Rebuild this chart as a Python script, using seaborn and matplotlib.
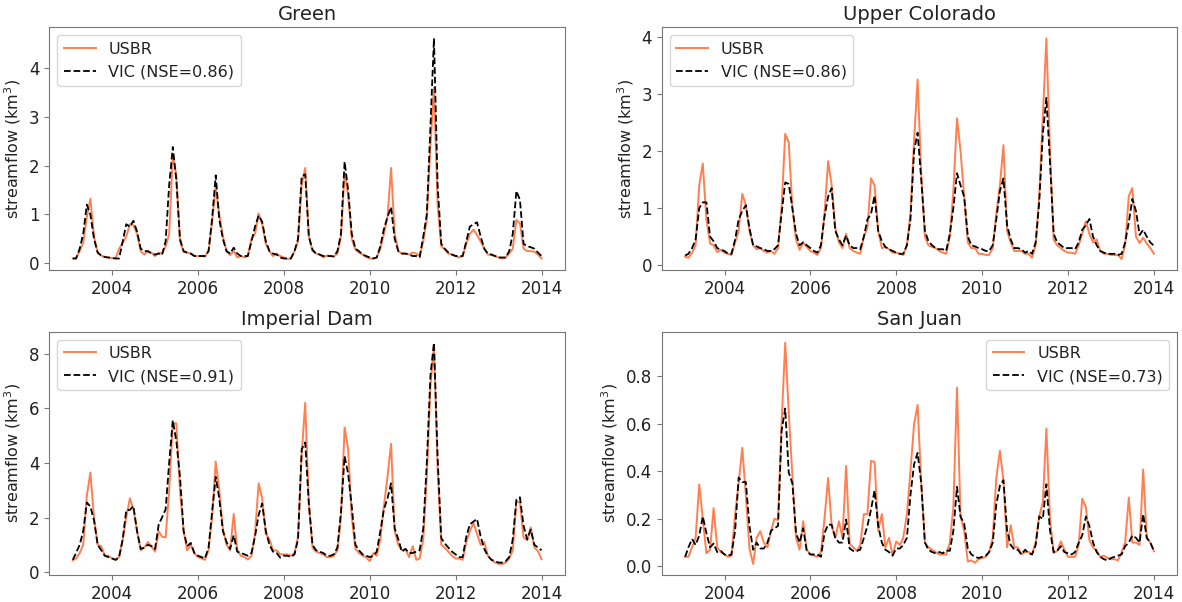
import numpy as np
import pandas as pd
import matplotlib
matplotlib.use("Agg")
import matplotlib.pyplot as plt
import matplotlib.dates as mdates
import seaborn as sns

# Monthly streamflow volumes (km^3), Jan 2003 - Dec 2013, one row per year
dates = pd.date_range("2003-01-31", periods=132, freq="ME")

green_usbr = [
    0.10, 0.10, 0.25, 0.42, 0.95, 1.32, 0.55, 0.22, 0.16, 0.13, 0.12, 0.11,
    0.10, 0.30, 0.42, 0.55, 0.80, 0.78, 0.60, 0.25, 0.18, 0.25, 0.22, 0.15,
    0.22, 0.20, 0.35, 0.60, 2.22, 1.80, 0.45, 0.23, 0.22, 0.20, 0.15, 0.15,
    0.15, 0.14, 0.25, 0.85, 1.55, 1.00, 0.55, 0.25, 0.17, 0.25, 0.12, 0.15,
    0.12, 0.15, 0.50, 0.60, 1.02, 0.80, 0.40, 0.25, 0.15, 0.20, 0.15, 0.12,
    0.09, 0.10, 0.25, 0.45, 1.60, 1.95, 0.55, 0.25, 0.20, 0.18, 0.12, 0.16,
    0.15, 0.14, 0.20, 0.55, 1.85, 1.40, 0.50, 0.28, 0.22, 0.18, 0.13, 0.10,
    0.10, 0.12, 0.30, 0.60, 0.95, 1.95, 0.60, 0.25, 0.20, 0.20, 0.18, 0.22,
    0.20, 0.15, 0.45, 0.90, 2.40, 3.60, 1.20, 0.35, 0.28, 0.20, 0.18, 0.15,
    0.12, 0.15, 0.40, 0.60, 0.69, 0.58, 0.45, 0.30, 0.18, 0.17, 0.15, 0.12,
    0.10, 0.12, 0.20, 0.30, 0.89, 0.82, 0.30, 0.25, 0.25, 0.24, 0.18, 0.10,
]
green_vic = [
    0.10, 0.10, 0.30, 0.60, 1.20, 1.00, 0.50, 0.22, 0.16, 0.13, 0.12, 0.11,
    0.10, 0.10, 0.45, 0.80, 0.75, 0.87, 0.65, 0.30, 0.25, 0.25, 0.20, 0.18,
    0.20, 0.17, 0.45, 1.60, 2.38, 1.70, 0.50, 0.25, 0.22, 0.20, 0.15, 0.15,
    0.15, 0.15, 0.25, 0.90, 1.80, 0.90, 0.50, 0.25, 0.20, 0.32, 0.20, 0.15,
    0.15, 0.15, 0.45, 0.75, 0.98, 0.85, 0.45, 0.25, 0.20, 0.18, 0.12, 0.10,
    0.10, 0.10, 0.25, 0.50, 1.78, 1.82, 0.55, 0.28, 0.20, 0.18, 0.15, 0.15,
    0.15, 0.14, 0.25, 0.60, 2.08, 1.50, 0.60, 0.30, 0.25, 0.18, 0.15, 0.12,
    0.10, 0.12, 0.35, 0.70, 0.95, 1.15, 0.50, 0.25, 0.20, 0.20, 0.18, 0.15,
    0.15, 0.12, 0.55, 1.00, 2.80, 4.60, 1.60, 0.40, 0.30, 0.22, 0.18, 0.15,
    0.15, 0.15, 0.45, 0.75, 0.80, 0.84, 0.55, 0.30, 0.20, 0.18, 0.15, 0.12,
    0.12, 0.12, 0.25, 0.60, 1.48, 1.30, 0.40, 0.35, 0.33, 0.30, 0.22, 0.15,
]

upper_usbr = [
    0.15, 0.13, 0.22, 0.35, 1.40, 1.78, 0.80, 0.38, 0.35, 0.23, 0.27, 0.22,
    0.20, 0.18, 0.40, 0.60, 1.25, 1.05, 0.60, 0.35, 0.28, 0.30, 0.25, 0.22,
    0.25, 0.20, 0.30, 1.00, 2.30, 2.15, 1.00, 0.45, 0.27, 0.40, 0.32, 0.25,
    0.22, 0.18, 0.30, 0.90, 1.82, 1.40, 0.65, 0.40, 0.30, 0.55, 0.30, 0.25,
    0.22, 0.20, 0.50, 0.65, 1.52, 1.40, 0.60, 0.30, 0.32, 0.28, 0.22, 0.22,
    0.20, 0.18, 0.35, 0.90, 2.20, 3.25, 1.60, 0.50, 0.35, 0.32, 0.30, 0.25,
    0.22, 0.20, 0.50, 1.30, 2.57, 2.00, 1.20, 0.40, 0.30, 0.30, 0.20, 0.20,
    0.18, 0.18, 0.30, 0.90, 1.40, 2.10, 0.60, 0.40, 0.25, 0.25, 0.25, 0.20,
    0.20, 0.13, 0.35, 1.20, 2.60, 3.97, 2.00, 0.45, 0.35, 0.30, 0.25, 0.22,
    0.22, 0.20, 0.35, 0.55, 0.77, 0.55, 0.40, 0.45, 0.25, 0.20, 0.20, 0.18,
    0.18, 0.18, 0.11, 0.35, 1.21, 1.35, 0.50, 0.39, 0.48, 0.38, 0.30, 0.20,
]
upper_vic = [
    0.17, 0.20, 0.30, 0.45, 1.00, 1.10, 1.10, 0.50, 0.42, 0.30, 0.27, 0.25,
    0.20, 0.20, 0.45, 0.80, 0.95, 1.05, 0.65, 0.35, 0.33, 0.30, 0.28, 0.25,
    0.25, 0.28, 0.35, 0.90, 1.45, 1.42, 1.00, 0.55, 0.35, 0.40, 0.35, 0.30,
    0.25, 0.22, 0.35, 0.85, 1.20, 1.35, 0.60, 0.45, 0.35, 0.52, 0.35, 0.30,
    0.30, 0.28, 0.50, 0.80, 0.90, 1.22, 0.60, 0.42, 0.32, 0.28, 0.25, 0.22,
    0.20, 0.20, 0.35, 0.80, 2.00, 2.32, 1.50, 0.60, 0.42, 0.35, 0.30, 0.28,
    0.28, 0.25, 0.55, 1.00, 1.61, 1.40, 1.20, 0.50, 0.35, 0.33, 0.30, 0.28,
    0.25, 0.25, 0.35, 0.80, 1.30, 1.52, 0.70, 0.45, 0.30, 0.30, 0.28, 0.22,
    0.25, 0.20, 0.40, 1.10, 2.30, 2.93, 1.80, 0.55, 0.40, 0.35, 0.30, 0.30,
    0.30, 0.28, 0.40, 0.62, 0.70, 0.81, 0.50, 0.35, 0.25, 0.22, 0.20, 0.20,
    0.20, 0.18, 0.20, 0.40, 0.75, 1.16, 0.95, 0.53, 0.62, 0.50, 0.40, 0.34,
]

imperial_usbr = [
    0.43, 0.50, 0.70, 1.00, 2.80, 3.65, 2.00, 1.00, 0.95, 0.60, 0.60, 0.50,
    0.45, 0.55, 1.20, 2.00, 2.70, 2.30, 1.50, 0.80, 0.90, 1.10, 0.95, 0.75,
    1.50, 1.30, 1.27, 3.00, 5.45, 5.45, 3.00, 1.50, 0.80, 1.00, 0.70, 0.55,
    0.50, 0.45, 0.80, 2.00, 4.05, 3.00, 1.60, 1.00, 0.80, 2.13, 0.80, 0.60,
    0.55, 0.46, 0.60, 1.40, 3.25, 2.70, 1.40, 1.20, 0.80, 0.80, 0.65, 0.65,
    0.65, 0.60, 0.70, 1.30, 4.30, 6.20, 2.50, 0.90, 0.75, 0.70, 0.65, 0.55,
    0.55, 0.60, 0.80, 2.00, 5.30, 4.50, 2.00, 0.85, 0.70, 0.60, 0.55, 0.40,
    0.70, 0.60, 1.20, 2.40, 3.50, 4.70, 1.50, 1.00, 0.80, 0.85, 0.55, 0.95,
    0.45, 0.50, 1.20, 3.50, 6.80, 8.30, 3.80, 1.00, 0.90, 0.75, 0.60, 0.50,
    0.50, 0.45, 1.10, 1.50, 1.80, 1.40, 1.00, 1.10, 0.60, 0.45, 0.35, 0.30,
    0.30, 0.35, 0.50, 0.80, 2.59, 2.55, 1.28, 1.17, 1.64, 0.90, 0.77, 0.47,
]
imperial_vic = [
    0.45, 0.70, 1.00, 1.50, 2.55, 2.40, 1.90, 1.00, 0.80, 0.60, 0.55, 0.50,
    0.45, 0.55, 1.20, 2.27, 2.28, 2.42, 1.50, 0.85, 0.90, 1.00, 0.95, 0.85,
    1.74, 2.00, 2.30, 4.00, 5.56, 4.80, 3.50, 1.50, 0.95, 1.07, 0.70, 0.60,
    0.55, 0.50, 0.90, 2.20, 3.49, 2.70, 1.50, 1.10, 0.85, 1.35, 0.75, 0.70,
    0.65, 0.60, 0.70, 1.30, 2.10, 2.51, 1.50, 1.00, 0.75, 0.70, 0.53, 0.60,
    0.60, 0.55, 0.65, 1.20, 4.50, 4.75, 2.50, 1.00, 0.80, 0.75, 0.70, 0.60,
    0.60, 0.65, 0.90, 2.20, 4.25, 3.60, 2.40, 1.00, 0.80, 0.65, 0.60, 0.55,
    0.60, 0.75, 1.50, 2.30, 2.70, 3.25, 1.60, 1.20, 0.75, 0.85, 0.70, 0.70,
    0.75, 0.80, 1.60, 4.00, 7.20, 8.40, 4.20, 1.25, 1.05, 0.90, 0.75, 0.65,
    0.55, 0.55, 1.30, 1.75, 1.85, 1.95, 1.30, 0.85, 0.60, 0.45, 0.40, 0.35,
    0.35, 0.40, 0.55, 1.20, 2.65, 2.74, 1.70, 1.20, 1.56, 1.00, 0.90, 0.80,
]

sanjuan_usbr = [
    0.040, 0.040, 0.080, 0.120, 0.345, 0.200, 0.055, 0.070, 0.245, 0.080, 0.060, 0.050,
    0.040, 0.045, 0.220, 0.350, 0.500, 0.300, 0.075, 0.010, 0.120, 0.148, 0.100, 0.080,
    0.150, 0.200, 0.195, 0.600, 0.942, 0.650, 0.380, 0.120, 0.070, 0.190, 0.070, 0.050,
    0.045, 0.040, 0.060, 0.200, 0.372, 0.170, 0.120, 0.190, 0.120, 0.423, 0.095, 0.080,
    0.065, 0.090, 0.220, 0.220, 0.444, 0.440, 0.150, 0.220, 0.080, 0.120, 0.046, 0.105,
    0.090, 0.120, 0.220, 0.400, 0.600, 0.680, 0.350, 0.100, 0.080, 0.070, 0.060, 0.050,
    0.050, 0.050, 0.100, 0.250, 0.753, 0.210, 0.150, 0.020, 0.025, 0.015, 0.030, 0.035,
    0.040, 0.060, 0.120, 0.370, 0.487, 0.360, 0.080, 0.173, 0.080, 0.080, 0.050, 0.060,
    0.060, 0.050, 0.100, 0.210, 0.270, 0.580, 0.200, 0.056, 0.065, 0.105, 0.070, 0.040,
    0.040, 0.040, 0.090, 0.285, 0.250, 0.110, 0.080, 0.065, 0.040, 0.045, 0.035, 0.030,
    0.030, 0.025, 0.060, 0.100, 0.290, 0.100, 0.100, 0.090, 0.408, 0.120, 0.100, 0.063,
]
sanjuan_vic = [
    0.040, 0.080, 0.115, 0.090, 0.130, 0.210, 0.140, 0.080, 0.096, 0.060, 0.065, 0.050,
    0.045, 0.050, 0.150, 0.374, 0.355, 0.355, 0.170, 0.070, 0.100, 0.075, 0.075, 0.100,
    0.150, 0.160, 0.170, 0.570, 0.665, 0.395, 0.350, 0.140, 0.100, 0.160, 0.065, 0.050,
    0.050, 0.050, 0.040, 0.140, 0.176, 0.175, 0.120, 0.100, 0.100, 0.197, 0.075, 0.065,
    0.065, 0.070, 0.120, 0.170, 0.240, 0.320, 0.170, 0.100, 0.070, 0.060, 0.045, 0.075,
    0.075, 0.090, 0.120, 0.300, 0.430, 0.478, 0.350, 0.100, 0.070, 0.060, 0.055, 0.060,
    0.055, 0.067, 0.065, 0.150, 0.335, 0.210, 0.180, 0.075, 0.050, 0.040, 0.035, 0.040,
    0.045, 0.060, 0.100, 0.260, 0.340, 0.363, 0.150, 0.090, 0.070, 0.070, 0.050, 0.070,
    0.055, 0.050, 0.090, 0.210, 0.200, 0.346, 0.150, 0.060, 0.065, 0.085, 0.060, 0.055,
    0.050, 0.060, 0.100, 0.130, 0.210, 0.170, 0.100, 0.060, 0.040, 0.030, 0.025, 0.035,
    0.040, 0.045, 0.050, 0.085, 0.100, 0.130, 0.120, 0.100, 0.220, 0.120, 0.100, 0.065,
]

basins = ["Green", "Upper Colorado", "Imperial Dam", "San Juan"]
nse = ["0.86", "0.86", "0.91", "0.73"]
legend_loc = ["upper left", "upper left", "upper left", "upper right"]
observed = [green_usbr, upper_usbr, imperial_usbr, sanjuan_usbr]
simulated = [green_vic, upper_vic, imperial_vic, sanjuan_vic]

plt.rcParams["font.family"] = ["DejaVu Sans"]
plt.rcParams["text.color"] = "#222222"
plt.rcParams["axes.labelcolor"] = "#222222"
plt.rcParams["xtick.color"] = "#777777"
plt.rcParams["ytick.color"] = "#777777"
plt.rcParams["xtick.labelcolor"] = "#222222"
plt.rcParams["ytick.labelcolor"] = "#222222"

fig = plt.figure(figsize=(11.82, 6.02), dpi=100)
W, H = 1182, 602
boxes = [
    (49.3, 27.3, 515.7, 242.7),
    (661.7, 27.3, 515.7, 242.7),
    (49.3, 331.7, 515.7, 243.3),
    (661.7, 331.7, 515.7, 243.3),
]

for k, name in enumerate(basins):
    x0, y0, w, h = boxes[k]
    ax = fig.add_axes([x0 / W, 1 - (y0 + h) / H, w / W, h / H])
    sns.lineplot(x=dates, y=observed[k], ax=ax, color="#FF7F50", linewidth=1.4,
                 label="USBR")
    sns.lineplot(x=dates, y=simulated[k], ax=ax, color="black", linewidth=1.3,
                 linestyle="--", label=f"VIC (NSE={nse[k]})")
    ax.set_title(name, fontsize=14, pad=5)
    ax.set_ylabel("streamflow (km$^3$)", fontsize=11.5)
    ax.set_xlabel("")
    ax.xaxis.set_major_locator(mdates.YearLocator(2))
    ax.xaxis.set_major_formatter(mdates.DateFormatter("%Y"))
    ax.tick_params(labelsize=12)
    for s in ax.spines.values():
        s.set_color("#777777")
    leg = ax.legend(loc=legend_loc[k], fontsize=11.5, handlelength=2.0)
    for t in leg.get_texts():
        t.set_color("#222222")

fig.savefig("out.png", dpi=100)
